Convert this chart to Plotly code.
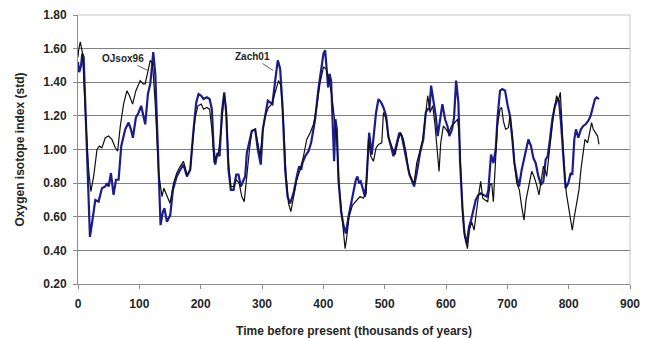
import plotly.graph_objects as go

# OJsox96 (black)
ojsox96_time = [0, 1, 3.7, 7.5, 12, 17.3, 21, 25.5, 31, 34.7, 39, 44.5, 50, 55.3, 60.8, 64.6, 69, 74.3,
                79.8, 84, 89, 94.4, 101.5, 106, 109.6, 115, 117.8, 121.6, 126, 131.4, 137, 140, 145, 150,
                155.8, 161, 166.7, 172, 177.6, 183, 187.3, 191, 195.5, 200.9, 204.7, 210, 214.5, 218.3,
                222, 225.3, 229, 233, 238.4, 241.6, 245.4, 249.2, 253.6, 258, 262.8, 267, 271, 275.3,
                279.6, 283.4, 288.9, 293.2, 297, 301.4, 305.2, 310.6, 316, 321.5, 326.9, 330.7, 335,
                338.9, 343.2, 347, 351.4, 356.8, 362.2, 367.7, 373, 378.5, 384, 389.4, 394.8, 400.2,
                404.6, 409.5, 413.8, 417.6, 422, 425.7, 430, 432.8, 435.5, 438.2, 442, 447.5, 454.5,
                460, 465.4, 469.8, 473.6, 477.4, 481.7, 486, 489.9, 495.3, 498, 502.4, 506, 511.6, 517,
                522.4, 526.2, 530.6, 535, 538.7, 544, 548, 552.3, 556.7, 562, 565.9, 570.2, 574, 578.4,
                582.2, 586, 588.7, 591.4, 595.7, 600, 603.9, 609.3, 614.8, 619.1, 621.9, 624.6, 627.3,
                631.1, 634.9, 638.2, 641.9, 645.8, 649, 652.8, 656.6, 659.9, 663.7, 668, 671.8, 674.5,
                677.2, 680, 683.8, 688.1, 690.8, 693.5, 697.3, 701.7, 704.4, 708.2, 711.5, 715.3, 719.6,
                723.4, 727.2, 730.5, 735.3, 739.7, 743.5, 747.8, 751.6, 754.9, 758.7, 761.4, 764.1, 768,
                772.3, 776, 780.4, 783.1, 786.4, 789.6, 792.9, 796.2, 799.4, 803.2, 805.9, 809.2, 813,
                816.8, 820, 823.8, 826.6, 830.9, 834.7, 837.4, 840.1, 844, 847.2, 849.4]
ojsox96_index = [1.55, 1.59, 1.64, 1.57, 1.22, 0.88, 0.75, 0.84, 1.00, 1.02, 1.01, 1.07, 1.08, 1.06, 1.01,
                 0.99, 1.14, 1.27, 1.35, 1.32, 1.27, 1.35, 1.41, 1.39, 1.39, 1.49, 1.53, 1.51, 1.27, 0.86,
                 0.72, 0.77, 0.72, 0.68, 0.80, 0.86, 0.90, 0.93, 0.85, 0.88, 1.06, 1.19, 1.26, 1.27, 1.24,
                 1.25, 1.24, 1.12, 0.92, 0.96, 0.98, 1.10, 1.33, 1.24, 0.92, 0.78, 0.78, 0.82, 0.80, 0.72,
                 0.69, 0.86, 1.00, 1.11, 1.12, 1.04, 0.96, 1.12, 1.20, 1.25, 1.27, 1.34, 1.41, 1.38, 1.16,
                 0.86, 0.68, 0.63, 0.72, 0.82, 0.88, 0.96, 1.06, 1.10, 1.15, 1.26, 1.40, 1.49, 1.48, 1.41,
                 1.32, 1.20, 1.06, 0.78, 0.60, 0.48, 0.41, 0.48, 0.60, 0.67, 0.70, 0.72, 0.71, 0.74, 1.06,
                 0.96, 0.93, 1.01, 1.03, 1.04, 1.22, 1.18, 1.07, 1.02, 0.97, 1.06, 1.10, 1.06, 0.98, 0.88,
                 0.82, 0.80, 0.92, 0.98, 1.06, 1.18, 1.32, 1.22, 1.26, 1.14, 1.00, 0.87, 1.04, 1.14, 1.12,
                 1.10, 1.14, 1.16, 1.18, 1.06, 0.82, 0.60, 0.48, 0.41, 0.52, 0.57, 0.52, 0.62, 0.72, 0.81,
                 0.71, 0.70, 0.69, 0.79, 0.80, 0.69, 0.92, 1.14, 1.24, 1.25, 1.17, 1.12, 1.13, 1.20, 1.08,
                 0.92, 0.80, 0.76, 0.66, 0.58, 0.70, 0.80, 0.87, 0.84, 0.79, 0.73, 0.81, 0.90, 0.88, 0.84,
                 0.97, 1.10, 1.23, 1.32, 1.29, 1.34, 1.12, 0.88, 0.74, 0.66, 0.56, 0.52, 0.60, 0.68, 0.76,
                 0.88, 1.00, 1.06, 1.04, 1.12, 1.16, 1.12, 1.10, 1.08, 1.03]

# Zach01 (blue)
zach01_time = [0, 2, 5, 7, 9.2, 13, 16.2, 19.5, 22.8, 28.2, 33.6, 39, 44.5, 47.2, 50, 53.7, 58, 61.9,
               66.2, 70.5, 77, 82.5, 86.3, 89.5, 94.4, 98.8, 103, 107, 109.6, 114, 117.8, 120.5, 122.7,
               126, 130.3, 134.6, 138.4, 141, 145, 150.4, 154.7, 161, 166.7, 172, 177.6, 183, 188.4,
               192.8, 196.6, 200.9, 204.7, 210, 214.5, 218.3, 221, 223.7, 227.5, 230.8, 234.6, 238.4,
               241.6, 245.4, 249.2, 253.6, 258, 261.7, 265.5, 268.8, 272.6, 275.3, 279.6, 283.4, 288.9,
               293.2, 298, 301.4, 305.2, 309.5, 313.3, 317, 321.5, 325.8, 329.6, 333.4, 337.8, 341.6,
               345.9, 351.4, 356.8, 360.6, 363.9, 366, 370.4, 375.8, 380.1, 386.6, 392, 396.4, 400.2,
               403, 405.7, 407.8, 410, 412.7, 415.4, 417.6, 419.8, 422, 424.7, 429, 432.8, 436.6, 441,
               445.3, 449.1, 453, 455.6, 458.3, 461, 464.3, 468, 470.8, 474.7, 479, 482.8, 486, 489.9,
               494.2, 498, 502.4, 506, 510, 514.3, 518.6, 524, 527.9, 532.2, 536, 540.4, 544, 548, 552.3,
               557.7, 563, 567, 570.2, 573, 575.7, 579.5, 583.3, 586.5, 590.3, 594.1, 598.5, 602.3,
               605.5, 609.9, 613.1, 616.5, 620.2, 623, 626.7, 630, 633.8, 637.6, 640.9, 644.7, 648.5,
               652.8, 656.6, 661, 666.4, 669.1, 673.4, 677.2, 681, 684.3, 688.1, 691.9, 696.3, 700.6,
               704.4, 708.2, 711.5, 715.3, 719.1, 723.4, 728.8, 734.3, 738.6, 742.4, 746.2, 750.6,
               754.9, 758.7, 762.5, 765.8, 769.5, 773.4, 777.7, 782, 784.2, 787.5, 791.3, 795, 799.4,
               803.2, 805.9, 809.2, 811.9, 815.7, 820, 823.8, 827.6, 831.9, 835.8, 839, 842.9, 845.6,
               849.4]
zach01_index = [1.52, 1.46, 1.50, 1.57, 1.55, 1.12, 0.72, 0.48, 0.56, 0.70, 0.69, 0.77, 0.78, 0.80, 0.78,
                0.86, 0.73, 0.82, 0.82, 1.02, 1.12, 1.16, 1.12, 1.07, 1.19, 1.22, 1.26, 1.20, 1.15, 1.33,
                1.39, 1.49, 1.58, 1.45, 0.96, 0.55, 0.63, 0.65, 0.57, 0.61, 0.76, 0.84, 0.88, 0.91, 0.84,
                0.88, 1.12, 1.28, 1.33, 1.32, 1.30, 1.31, 1.30, 1.24, 1.02, 0.91, 0.98, 0.96, 1.22, 1.34,
                1.22, 0.88, 0.76, 0.76, 0.85, 0.85, 0.78, 0.81, 0.84, 0.98, 1.06, 1.11, 1.12, 1.00, 0.91,
                1.12, 1.20, 1.29, 1.28, 1.27, 1.41, 1.53, 1.48, 1.26, 0.88, 0.72, 0.68, 0.74, 0.84, 0.90,
                0.88, 0.92, 0.96, 0.99, 1.04, 1.18, 1.36, 1.48, 1.57, 1.59, 1.48, 1.37, 1.45, 1.41, 1.14,
                0.93, 1.18, 1.12, 0.82, 0.63, 0.55, 0.50, 0.60, 0.68, 0.74, 0.82, 0.84, 0.80, 0.81, 0.77,
                0.72, 0.84, 1.10, 0.97, 1.12, 1.22, 1.30, 1.28, 1.25, 1.20, 1.08, 1.02, 0.96, 1.02, 1.10,
                1.08, 1.00, 0.92, 0.85, 0.82, 0.78, 0.86, 0.98, 1.06, 1.22, 1.24, 1.24, 1.38, 1.29, 1.20,
                1.08, 1.19, 1.27, 1.18, 1.14, 1.08, 1.12, 1.19, 1.41, 1.28, 0.92, 0.66, 0.50, 0.44, 0.54,
                0.58, 0.64, 0.70, 0.73, 0.74, 0.73, 0.72, 0.76, 0.97, 0.92, 1.00, 1.20, 1.35, 1.36, 1.35,
                1.26, 1.20, 1.06, 0.92, 0.84, 0.78, 0.88, 0.98, 1.06, 1.02, 0.95, 0.92, 0.84, 0.79, 0.81,
                0.94, 0.96, 1.06, 1.18, 1.26, 1.30, 1.29, 1.16, 0.96, 0.77, 0.80, 0.86, 0.85, 1.06, 1.12,
                1.07, 1.12, 1.14, 1.15, 1.17, 1.20, 1.25, 1.30, 1.31, 1.30]

x_ticks = [0, 100, 200, 300, 400, 500, 600, 700, 800, 900]
y_ticks = [0.2, 0.4, 0.6, 0.8, 1.0, 1.2, 1.4, 1.6, 1.8]

FONT = "Liberation Sans, Arial, sans-serif"
TXT = "#262626"

fig = go.Figure()
fig.add_trace(go.Scatter(x=zach01_time, y=zach01_index, mode="lines", name="Zach01",
                         line=dict(color="#1c1c8c", width=2.2)))
fig.add_trace(go.Scatter(x=ojsox96_time, y=ojsox96_index, mode="lines", name="OJsox96",
                         line=dict(color="#111111", width=1.2)))

fig.update_layout(
    width=654, height=338,
    margin=dict(l=78, r=24, t=15, b=54),
    paper_bgcolor="white", plot_bgcolor="white",
    showlegend=False,
    font=dict(family=FONT, color=TXT),
    xaxis=dict(range=[0, 900], tickvals=x_ticks, ticktext=[str(v) for v in x_ticks],
               automargin=False,
               showgrid=False, zeroline=False, showline=True, linecolor="#8c8c8c", linewidth=1,
               ticks="outside", ticklen=4, tickcolor="#8c8c8c", ticklabelstandoff=5,
               tickfont=dict(size=12, family=FONT, color=TXT, weight="bold"),
               title=dict(text="Time before present (thousands of years)", standoff=16,
                          font=dict(size=12, family=FONT, color=TXT, weight="bold"))),
    yaxis=dict(range=[0.2, 1.8], tickvals=y_ticks, ticktext=[f"{v:.2f}" for v in y_ticks],
               automargin=False,
               showgrid=True, gridcolor="#7f7f7f", gridwidth=1, zeroline=False,
               showline=True, linecolor="#8c8c8c", linewidth=1,
               ticks="outside", ticklen=4, tickcolor="#8c8c8c", ticklabelstandoff=4,
               tickfont=dict(size=12, family=FONT, color=TXT, weight="bold"),
               title=dict(text="Oxygen isotope index (std)", standoff=16,
                          font=dict(size=12, family=FONT, color=TXT, weight="bold"))),
)

# light frame on top and right
fig.add_shape(type="line", xref="paper", yref="paper", x0=0, x1=1, y0=1, y1=1,
              line=dict(color="#c4c4c4", width=1), layer="above")
fig.add_shape(type="line", xref="paper", yref="paper", x0=1, x1=1, y0=0, y1=1,
              line=dict(color="#c4c4c4", width=1), layer="above")

fig.add_annotation(x=114, y=1.47, text="OJsox96", showarrow=True, arrowhead=0, arrowwidth=0.8,
                   arrowcolor="#333333", ax=-25, ay=-12,
                   font=dict(size=10, family=FONT, color=TXT, weight="bold"))
fig.add_annotation(x=318, y=1.47, text="Zach01", showarrow=True, arrowhead=0, arrowwidth=0.8,
                   arrowcolor="#333333", ax=-21, ay=-14,
                   font=dict(size=10, family=FONT, color=TXT, weight="bold"))

fig.write_html("out.html", config={"displayModeBar": False},
               post_script="document.body.style.margin='0';document.body.style.overflow='hidden';")
